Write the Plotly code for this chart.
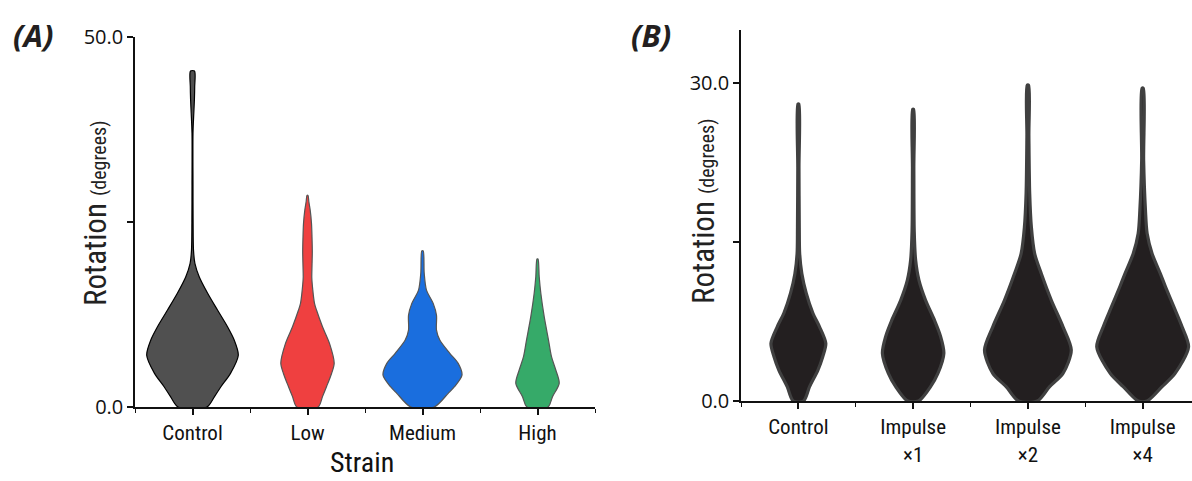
import plotly.graph_objects as go

# ---------------- data ----------------
strain_labels = ["Control", "Low", "Medium", "High"]
impulse_labels = ["Control", "Impulse<br>×1", "Impulse<br>×2", "Impulse<br>×4"]

# Panel A: rotation levels (degrees) and kernel density (relative half-width)
a_control_y = [0, 1.4, 2.74, 4.55, 7.0, 9.05, 10.85, 13.1, 15.4, 17.6, 19.4, 21.2, 25, 30, 37, 39.7, 41.5, 43.3, 45.4]
a_control_d = [14.5, 22, 28.4, 38, 45.8, 41.7, 35, 25, 15, 6.7, 2.4, 1.0, 0.6, 0.5, 0.5, 1.3, 1.9, 2.2, 2.0]
a_low_y = [0, 1.4, 2.74, 4.5, 5.9, 8.6, 10.85, 13.1, 14.0, 15.8, 17.5, 19, 21, 23, 24.8, 26.6, 27.8, 28.6]
a_low_d = [10.7, 15, 19, 24, 26.7, 22, 15, 9, 7, 5.3, 4.3, 4.5, 4.8, 4.5, 4, 2.7, 1.3, 0.5]
a_med_y = [0, 1.85, 2.74, 4.3, 5.9, 7.25, 9.05, 10.4, 12.4, 14.0, 15.8, 18.1, 21.1]
a_med_d = [11.7, 25.7, 32, 39.5, 35.7, 27.3, 17.3, 14, 14, 10.7, 4, 1.7, 0.7]
a_high_y = [0, 1.4, 3.2, 5.0, 6.8, 9.05, 12.2, 15.4, 17.6, 20.0]
a_high_d = [10.5, 15, 21.7, 18.3, 14, 11, 6.7, 3.3, 1.7, 0.5]

# Panel B
b_control_y = [0, 1.35, 2.9, 4.2, 5.44, 7.0, 8.3, 10.2, 12.0, 13.9, 16.4, 22, 28.0]
b_control_d = [6.7, 12.7, 21, 26, 29, 22.7, 16, 9.3, 5, 2.8, 2.4, 2.1, 2.0]
b_imp1_y = [0, 1.35, 2.6, 4.5, 6.1, 7.6, 9.5, 11.4, 13.3, 16, 22, 27.5]
b_imp1_d = [7, 19, 26.3, 32.3, 29, 23, 14, 7.3, 4, 2.6, 2.2, 2.0]
b_imp2_y = [0, 1.35, 2.6, 4.8, 7.0, 9.5, 12.0, 13.9, 16.4, 19.6, 25, 29.8]
b_imp2_d = [11, 23.3, 36.7, 45, 36.7, 25, 15, 8.3, 5, 3.3, 2.5, 2.2]
b_imp4_y = [0, 1.35, 2.6, 5.1, 7.0, 8.9, 10.8, 12.0, 13.9, 15.8, 18.0, 22.7, 29.5]
b_imp4_d = [6, 21, 34, 47.5, 41, 32.7, 24.3, 19.3, 11, 6, 4.3, 2.5, 2.2]

a_series = [(a_control_y, a_control_d), (a_low_y, a_low_d), (a_med_y, a_med_d), (a_high_y, a_high_d)]
b_series = [(b_control_y, b_control_d), (b_imp1_y, b_imp1_d), (b_imp2_y, b_imp2_d), (b_imp4_y, b_imp4_d)]

# ---------------- styling ----------------
a_fill = ["#505050", "#ef4040", "#1a6ede", "#36aa69"]
a_line = ["#000000", "#555555", "#555555", "#555555"]
b_fill = "#231f20"
b_line = "#404040"
PX_PER_CAT = 115.0
COND = "Roboto Condensed, Liberation Sans Narrow, DejaVu Sans Condensed, Roboto, sans-serif"
REG = "Open Sans, Liberation Sans, sans-serif"

fig = go.Figure()


def add_violin(pos, ys, ds, fill, line, lw, xa, ya, inset=0.0):
    hw = [max(d - inset, 0.3) / PX_PER_CAT for d in ds]
    xs = [pos + h for h in hw] + [pos - h for h in reversed(hw)]
    yy = list(ys) + list(reversed(ys))
    xs.append(xs[0])
    yy.append(yy[0])
    fig.add_trace(go.Scatter(x=xs, y=yy, mode="lines", fill="toself", fillcolor=fill,
                             line=dict(color=line, width=lw, shape="spline", smoothing=0.8),
                             xaxis=xa, yaxis=ya, showlegend=False, hoverinfo="skip"))


for i, (ys, ds) in enumerate(a_series):
    add_violin(i, ys, ds, a_fill[i], a_line[i], 1.2, "x", "y")
for i, (ys, ds) in enumerate(b_series):
    add_violin(i, ys, ds, b_fill, b_line, 3.2, "x2", "y2", inset=1.5)

H = 481.0
W = 1192.0
axis_common = dict(showgrid=False, zeroline=False, showline=True, linecolor="#111111",
                   ticks="outside", tickcolor="#111111", automargin=False)

fig.update_layout(
    width=1192, height=481,
    margin=dict(l=0, r=0, t=0, b=0),
    paper_bgcolor="white", plot_bgcolor="white",
    xaxis=dict(domain=[135 / W, 595 / W], range=[-0.5, 3.5], anchor="y",
               tickvals=[0, 1, 2, 3], ticktext=strain_labels, ticklen=6, tickwidth=1.5,
               linewidth=2, tickfont=dict(family=COND, size=21, color="#111"),
               minor=dict(tickvals=[-0.5, 0.5, 1.5, 2.5, 3.5], ticklen=4, tickwidth=1.2,
                          ticks="outside", tickcolor="#111"),
               **axis_common),
    yaxis=dict(domain=[1 - 407 / H, 1 - 37 / H], range=[0, 50], anchor="x",
               tickvals=[0, 25, 50], ticktext=["0.0", "", "50.0"], ticklen=6, tickwidth=1.5,
               linewidth=1.5, tickfont=dict(family=REG, size=20, color="#111"),
               **axis_common),
    xaxis2=dict(domain=[741 / W, 1.0], range=[-0.5, 3.43], anchor="y2",
                tickvals=[0, 1, 2, 3], ticktext=impulse_labels, ticklen=6, tickwidth=1.5,
                linewidth=2, tickfont=dict(family=COND, size=21, color="#111"),
                minor=dict(tickvals=[-0.5, 0.5, 1.5, 2.5], ticklen=4, tickwidth=1.2,
                           ticks="outside", tickcolor="#111"),
                **axis_common),
    yaxis2=dict(domain=[1 - 401 / H, 1 - 30 / H], range=[0, 35], anchor="x2",
                tickvals=[0, 15, 30], ticktext=["0.0", "", "30.0"], ticklen=6, tickwidth=1.5,
                linewidth=1.5, tickfont=dict(family=REG, size=20, color="#111"),
                **axis_common),
)

ytitle = "Rotation <span style='font-size:20px'>(degrees)</span>"
fig.add_annotation(text=ytitle, x=96 / W, y=1 - 213 / H, xref="paper", yref="paper",
                   textangle=-90, showarrow=False, xanchor="center", yanchor="middle",
                   font=dict(family=COND, size=31, color="#222"))
fig.add_annotation(text=ytitle, x=703 / W, y=1 - 211 / H, xref="paper", yref="paper",
                   textangle=-90, showarrow=False, xanchor="center", yanchor="middle",
                   font=dict(family=COND, size=31, color="#222"))
fig.add_annotation(text="Strain", x=362 / W, y=1 - 462 / H, xref="paper", yref="paper",
                   showarrow=False, xanchor="center", yanchor="middle",
                   font=dict(family=COND, size=28, color="#111"))
fig.add_annotation(text="<b><i>(A)</i></b>", x=33 / W, y=1 - 35 / H, xref="paper", yref="paper",
                   showarrow=False, xanchor="center", yanchor="middle",
                   font=dict(family=REG, size=31, color="#231f20"))
fig.add_annotation(text="<b><i>(B)</i></b>", x=651 / W, y=1 - 35 / H, xref="paper", yref="paper",
                   showarrow=False, xanchor="center", yanchor="middle",
                   font=dict(family=REG, size=31, color="#231f20"))

fig.write_html("out.html")
